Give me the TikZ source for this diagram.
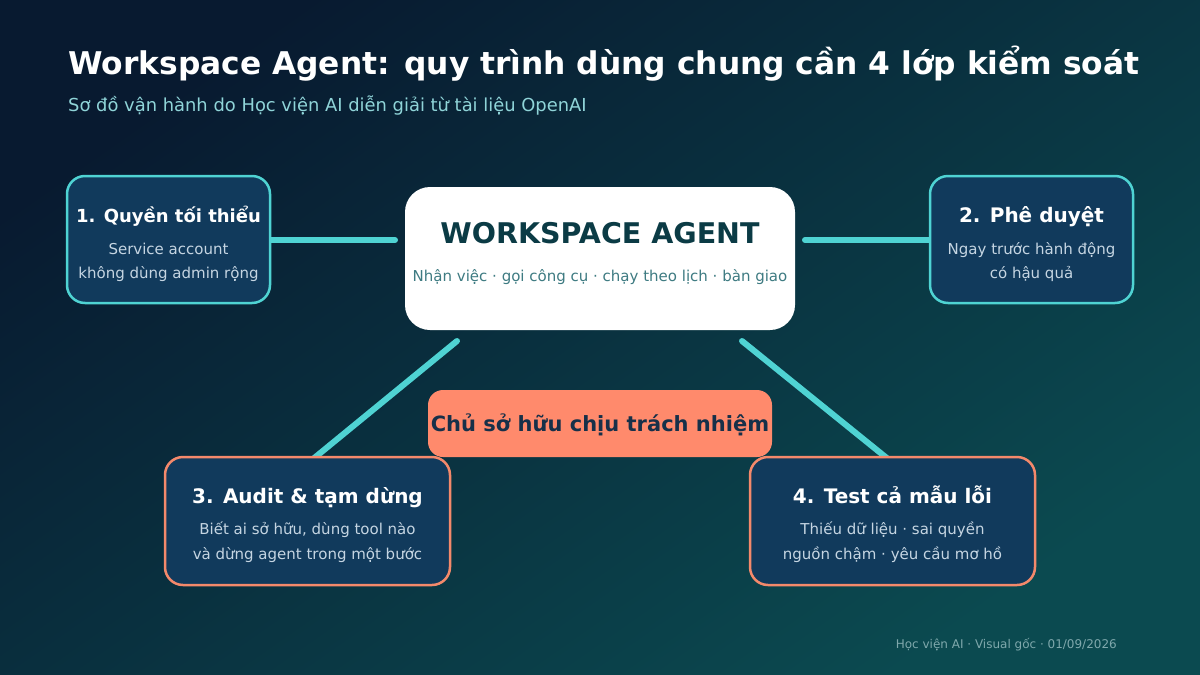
\documentclass[tikz,border=0pt]{standalone}
\usepackage{fontspec}
\setmainfont{DejaVu Sans}
\definecolor{bgA}{HTML}{081A30}
\definecolor{bgB}{HTML}{0B4A50}
\definecolor{boxfill}{HTML}{113A5C}
\definecolor{tealc}{HTML}{4FD3D3}
\definecolor{coralb}{HTML}{F4896B}
\definecolor{coralf}{HTML}{FF8A6C}
\definecolor{bodyc}{HTML}{C5D5E2}
\definecolor{subc}{HTML}{8FD4D8}
\definecolor{ctitle}{HTML}{0B3B45}
\definecolor{csub}{HTML}{3E7B82}
\definecolor{coraltext}{HTML}{173049}
\definecolor{footc}{HTML}{7FA8AC}
\begin{document}
\begin{tikzpicture}[x=1pt,y=-1pt,
  card/.style={fill=boxfill, line width=2.5pt, rounded corners=18pt,
    minimum width=203pt, minimum height=127pt, inner sep=0pt},
  tealcard/.style={card, draw=tealc},
  coralcard/.style={card, draw=coralb, minimum width=285pt, minimum height=128pt},
  cardtitle/.style={anchor=base, text=white, font=\fontsize{20}{24}\selectfont\bfseries, inner sep=0pt},
  cardbody/.style={anchor=base, text=bodyc, font=\fontsize{15}{18}\selectfont, inner sep=0pt},
  link/.style={draw=tealc, line width=6pt, line cap=round}]
\useasboundingbox (0,0) rectangle (1200,675);
\shade[top color=bgA, bottom color=bgB, shading angle=35] (0,0) rectangle (1200,675);

% title
\node[anchor=base west, inner sep=0pt, text=white, font=\fontsize{31.3}{36}\selectfont\bfseries] (title) at (68,74.3) {Workspace Agent: quy trình dùng chung cần 4 lớp kiểm soát};
\node[anchor=base west, inner sep=0pt, text=subc, font=\fontsize{17.9}{21}\selectfont] (subtitle) at (68,111.7) {Sơ đồ vận hành do Học viện AI diễn giải từ tài liệu OpenAI};

% connector anchor coordinates
\coordinate (l1) at (270,240);
\coordinate (r1) at (395,240);
\coordinate (l2) at (805,240);
\coordinate (r2) at (930,240);
\coordinate (dl) at (457,341);
\coordinate (dle) at (313,459);
\coordinate (dr) at (742,341);
\coordinate (dre) at (888,459);

% connectors
\draw[link] (l1) -- (r1);
\draw[link] (l2) -- (r2);
\draw[link] (dl) -- (dle);
\draw[link] (dr) -- (dre);

% center
\node[fill=white, rounded corners=25pt, minimum width=390pt, minimum height=143pt, inner sep=0pt] (center) at (600,258.5) {};
\node[anchor=base, inner sep=0pt, text=ctitle, font=\fontsize{28.5}{32}\selectfont\bfseries] (ct) at (600,243.5) {WORKSPACE AGENT};
\node[anchor=base, inner sep=0pt, text=csub, font=\fontsize{15}{18}\selectfont] (cs) at (600,281) {Nhận việc · gọi công cụ · chạy theo lịch · bàn giao};

% cards
\node[tealcard] (b1) at (168.5,239.5) {};
\node[cardtitle, font=\fontsize{18}{22}\selectfont\bfseries] (b1t) at (168.5,222) {1. Quyền tối thiểu};
\node[cardbody] (b1a) at (168.5,254) {Service account};
\node[cardbody] (b1b) at (168.5,278) {không dùng admin rộng};

\node[tealcard] (b2) at (1031.5,239.5) {};
\node[cardtitle] (b2t) at (1031.5,222) {2. Phê duyệt};
\node[cardbody] (b2a) at (1031.5,254) {Ngay trước hành động};
\node[cardbody] (b2b) at (1031.5,278) {có hậu quả};

\node[coralcard] (b3) at (307.5,521) {};
\node[cardtitle] (b3t) at (307.5,503) {3. Audit \& tạm dừng};
\node[cardbody] (b3a) at (307.5,534.5) {Biết ai sở hữu, dùng tool nào};
\node[cardbody] (b3b) at (307.5,559) {và dừng agent trong một bước};

\node[coralcard] (b4) at (892.5,521) {};
\node[cardtitle] (b4t) at (892.5,503) {4. Test cả mẫu lỗi};
\node[cardbody] (b4a) at (892.5,534.5) {Thiếu dữ liệu · sai quyền};
\node[cardbody] (b4b) at (892.5,559) {nguồn chậm · yêu cầu mơ hồ};

% owner
\node[fill=coralf, rounded corners=15pt, minimum width=344pt, minimum height=67pt, inner sep=0pt] (owner) at (600,423.5) {};
\node[anchor=base, inner sep=0pt, text=coraltext, font=\fontsize{21}{25}\selectfont\bfseries] (ot) at (600,431) {Chủ sở hữu chịu trách nhiệm};

% footer
\node[anchor=base east, inner sep=0pt, text=footc, font=\fontsize{12}{14}\selectfont] (foot) at (1117,648.5) {Học viện AI · Visual gốc · 01/09/2026};
\end{tikzpicture}
\end{document}
